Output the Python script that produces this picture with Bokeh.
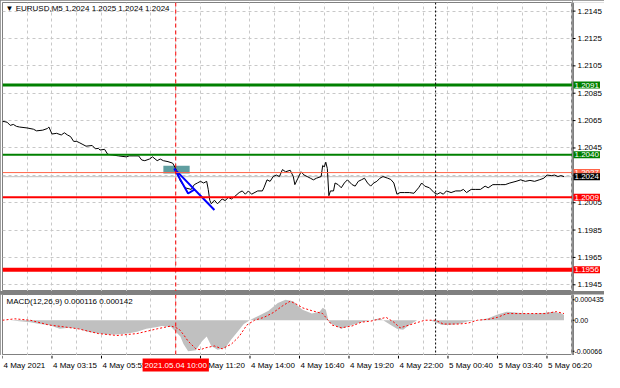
from bokeh.plotting import figure
from bokeh.models import Span, Label, FixedTicker, Range1d, Grid
from bokeh.layouts import column, row
from bokeh.core.properties import value
from bokeh.embed import file_html
from bokeh.resources import INLINE

FONT = "Liberation Sans"
FS = "8px"

# ---------------- data ----------------
symbol = "EURUSD,M5"
ohlc = [1.2024, 1.2025, 1.2024, 1.2024]

price_bars = [0, 1, 3, 5, 7, 9, 11, 16, 20, 22,
              26, 29, 30, 32, 35, 38, 40, 42, 44, 46,
              48, 50, 52, 54, 58, 60, 62, 63, 66, 68,
              71, 75, 80, 82, 85, 88, 90, 92, 95, 97,
              100, 102, 104, 107, 110, 112, 115, 118, 122, 124,
              126, 128, 130, 132, 133, 134, 135, 137, 139, 142,
              144, 146, 148, 150, 153, 155, 157, 159, 161, 165,
              168, 169, 171, 173, 175, 177, 179, 181, 183, 186,
              188, 189, 191, 193, 195, 197, 199, 201, 203, 206,
              207, 208, 209, 210, 211, 212, 214, 215, 217, 219,
              221, 223, 226, 228, 230, 232, 234, 236, 238, 240,
              242, 244, 246, 249, 251, 253, 255, 257, 260, 263,
              266, 269, 271, 273, 276, 279, 281, 283, 285, 287,
              290, 293, 296, 298, 300, 303, 306, 309, 312, 314,
              317, 319, 322, 325, 328, 332, 335, 338, 341, 344,
              347, 350, 352, 355, 357, 359, 361, 363]
price_vals = [1.20643, 1.20643, 1.20638, 1.20615, 1.20622, 1.20608, 1.20603, 1.20596, 1.20587, 1.20575,
              1.20580, 1.20592, 1.20603, 1.20552, 1.20557, 1.20545, 1.20561, 1.20545, 1.20533, 1.20498,
              1.20498, 1.20487, 1.20475, 1.20463, 1.20468, 1.20444, 1.20447, 1.20435, 1.20440, 1.20404,
              1.20399, 1.20392, 1.20385, 1.20392, 1.20392, 1.20392, 1.20362, 1.20357, 1.20369, 1.20385,
              1.20357, 1.20369, 1.20357, 1.20350, 1.20339, 1.20299, 1.20208, 1.20159, 1.20147, 1.20182,
              1.20194, 1.20206, 1.20194, 1.20206, 1.20147, 1.20068, 1.20042, 1.20068, 1.20042, 1.20077,
              1.20065, 1.20089, 1.20077, 1.20094, 1.20124, 1.20136, 1.20112, 1.20136, 1.20112, 1.20136,
              1.20136, 1.20159, 1.20217, 1.20206, 1.20241, 1.20252, 1.20241, 1.20292, 1.20276, 1.20287,
              1.20241, 1.20182, 1.20229, 1.20276, 1.20252, 1.20241, 1.20229, 1.20217, 1.20229, 1.20241,
              1.20322, 1.20311, 1.20346, 1.20299, 1.20101, 1.20136, 1.20136, 1.20194, 1.20182, 1.20159,
              1.20194, 1.20217, 1.20182, 1.20171, 1.20206, 1.20217, 1.20229, 1.20194, 1.20171, 1.20194,
              1.20206, 1.20229, 1.20241, 1.20229, 1.20220, 1.20194, 1.20112, 1.20124, 1.20124, 1.20124,
              1.20119, 1.20159, 1.20194, 1.20171, 1.20159, 1.20124, 1.20112, 1.20124, 1.20112, 1.20136,
              1.20124, 1.20136, 1.20136, 1.20147, 1.20124, 1.20147, 1.20147, 1.20147, 1.20171, 1.20159,
              1.20182, 1.20182, 1.20182, 1.20182, 1.20194, 1.20206, 1.20217, 1.20206, 1.20213, 1.20206,
              1.20217, 1.20229, 1.20252, 1.20248, 1.20252, 1.20241, 1.20248, 1.20240]

macd_title = "MACD(12,26,9) 0.000116 0.000142"
hist_bars = [0, 5, 11, 18, 24, 30, 37, 43, 49, 55,
             62, 68, 74, 81, 87, 93, 100, 103, 109, 112,
             115, 117, 120, 125, 129, 132, 135, 139, 144, 148,
             152, 156, 161, 166, 172, 178, 183, 188, 191, 194,
             200, 205, 207, 209, 211, 213, 219, 226, 232, 238,
             244, 251, 255, 259, 263, 268, 276, 280, 284, 289,
             295, 301, 307, 314, 320, 326, 333, 339, 345, 351,
             356, 361, 363]
hist_vals = [0.0, 0.0, -0.000020, -0.000041, -0.000081, -0.000101, -0.000183, -0.000162, -0.000183, -0.000244,
             -0.000284, -0.000305, -0.000305, -0.000284, -0.000244, -0.000183, -0.000142, -0.000122, -0.000142, -0.000244,
             -0.000345, -0.000508, -0.000660, -0.000640, -0.000447, -0.000345, -0.000548, -0.000630, -0.000589, -0.000406,
             -0.000244, -0.000081, 0.000020, 0.000101, 0.000203, 0.000365, 0.000435, 0.000406, 0.000305, 0.000223,
             0.000142, 0.000183, 0.000264, 0.000223, -0.000041, -0.000081, -0.000183, -0.000101, -0.000041, 0.0,
             0.000041, -0.000101, -0.000183, -0.000203, -0.000101, 0.0, 0.0, -0.000041, -0.000101, -0.000101,
             -0.000081, -0.000020, 0.0, 0.000041, 0.000122, 0.000183, 0.000162, 0.000142, 0.000142, 0.000162,
             0.000183, 0.000150, 0.000116]
signal_bars = [0, 8, 18, 30, 40, 49, 62, 74, 87, 100,
               109, 114, 117, 120, 125, 128, 131, 137, 142, 148,
               153, 158, 163, 169, 175, 181, 186, 191, 194, 200,
               207, 210, 213, 219, 226, 232, 238, 248, 253, 257,
               263, 273, 280, 285, 295, 301, 307, 314, 320, 326,
               339, 351, 358, 363]
signal_vals = [0.0, 0.000030, 0.0, -0.000101, -0.000142, -0.000183, -0.000284, -0.000325, -0.000284, -0.000183,
               -0.000122, -0.000183, -0.000305, -0.000446, -0.000609, -0.000629, -0.000589, -0.000548, -0.000609, -0.000508,
               -0.000345, -0.000101, 0.0, 0.000061, 0.000162, 0.000305, 0.000406, 0.000325, 0.000264, 0.000203,
               0.000142, 0.000020, -0.000101, -0.000162, -0.000122, -0.000041, -0.000020, 0.000061, -0.000041, -0.000162,
               -0.000101, 0.0, 0.0, -0.000081, -0.000081, -0.000061, 0.0, 0.000020, 0.000061, 0.000142,
               0.000142, 0.000142, 0.000183, 0.000142]

price_ticks = [1.1945, 1.1965, 1.1985, 1.2005, 1.2025, 1.2045, 1.2065, 1.2085, 1.2105, 1.2125, 1.2145]
price_tick_labels = ["1.1945", "1.1965", "1.1985", "1.2005", "", "1.2045", "1.2065", "1.2085",
                     "1.2105", "1.2125", "1.2145"]
macd_ticks = [0.000435, 0.0, -0.00066]
macd_tick_labels = ["0.000435", "0.00", "-0.00066"]

time_tick_bars = [0, 32, 64, 128, 160, 192, 224, 256, 288, 320, 352]
time_tick_labels = ["4 May 2021", "4 May 03:15", "4 May 05:55", "4 May 11:20", "4 May 14:00",
                    "4 May 16:40", "4 May 19:20", "4 May 22:00", "5 May 00:40", "5 May 03:40",
                    "5 May 06:20"]

level_prices = [1.2091, 1.2040, 1.2027, 1.2024, 1.2009, 1.1956]
level_texts = ["1.2091", "1.2040", "1.2027", "1.2024", "1.2009", "1.1956"]

marker_bar = 112
marker_text = "2021.05.04 10:00"
day_sep_bar = 280

zone_bars = [104, 121]
zone_prices = [1.20264, 1.20320]
trend_bars = [137, 111, 120, 124]
trend_prices = [1.19997, 1.20299, 1.20117, 1.20145]

# ---------------- styles / geometry ----------------
level_line_colors = ["#008000", "#008000", "#ff6347", "#c0c0c0", "#ff0000", "#ff0000"]
level_line_widths = [3, 2, 1, 1, 2, 4]
level_box_colors = ["#008000", "#008000", "#ff6347", "#000000", "#ff0000", "#ff0000"]

X0, X1 = 0, 368.5
P0, P1 = 1.19401, 1.21513
M0, M1 = -0.000751, 0.000548
FW, AXW = 570, 32
H_MAIN, H_MACD, H_XAX = 289, 61, 17
GRID = dict(grid_line_color="#c8c8c8", grid_line_dash="3 3", grid_line_width=1)
grid_bars = list(range(0, 369, 16))


def bare(fig):
    for r in list(fig.center):
        if isinstance(r, Grid):
            r.visible = False
    fig.background_fill_color = "white"
    fig.border_fill_color = "white"
    return fig


def new_fig(**kw):
    base = dict(output_backend="svg", toolbar_location=None, x_axis_location=None,
                y_axis_location=None, min_border=0, min_border_left=0, min_border_right=0,
                min_border_top=0, min_border_bottom=0)
    base.update(kw)
    return bare(figure(**base))


x_range = Range1d(X0, X1)
y_price = Range1d(P0, P1)
y_macd = Range1d(M0, M1)

# ---------------- main price panel ----------------
p1 = new_fig(frame_width=FW, frame_height=H_MAIN, x_range=x_range, y_range=y_price,
             min_border_left=2, min_border_top=2)
p1.outline_line_color = "#808080"
p1.add_layout(Grid(dimension=0, ticker=FixedTicker(ticks=grid_bars), **GRID))
p1.add_layout(Grid(dimension=1, ticker=FixedTicker(ticks=price_ticks), **GRID))

for price, col, w in zip(level_prices, level_line_colors, level_line_widths):
    lvl = "underlay" if col == "#c0c0c0" else "annotation"
    p1.add_layout(Span(location=price, dimension="width", line_color=col, line_width=w, level=lvl))

p1.quad(left=[zone_bars[0]], right=[zone_bars[1]], bottom=[zone_prices[0]], top=[zone_prices[1]],
        fill_color="#5f9ea0", line_color=None)
p1.line(price_bars, price_vals, line_color="black", line_width=1)
p1.line(trend_bars, trend_prices, line_color="#0000ff", line_width=2)
p1.add_layout(Span(location=marker_bar, dimension="height", line_color="red", line_dash="4 3", line_width=1))
p1.add_layout(Span(location=day_sep_bar, dimension="height", line_color="black", line_dash="2 2", line_width=1))
p1.add_layout(Label(x=X0, y=P1, x_offset=3, y_offset=-6,
                    text="\u25bc " + symbol + "  " + " ".join(f"{v:.4f}" for v in ohlc),
                    text_align="left", text_baseline="middle", text_font=FONT, text_font_size=FS,
                    text_color="black"))

# right price scale
a1 = new_fig(frame_width=AXW, frame_height=H_MAIN, x_range=Range1d(0, AXW), y_range=y_price,
             min_border_top=2)
a1.outline_line_color = None
a1.add_layout(Span(location=0.5, dimension="height", line_color="black", line_width=1))
a1.segment(x0=[0] * len(price_ticks), x1=[3] * len(price_ticks), y0=price_ticks, y1=price_ticks,
           line_color="black", line_width=1)
a1.text(x=[5] * len(price_ticks), y=price_ticks, text=price_tick_labels, text_align="left",
        text_baseline="middle", text_font=value(FONT), text_font_size=FS, text_color="black")
for price, txt, col in zip(level_prices, level_texts, level_box_colors):
    a1.add_layout(Label(x=1, y=price, text=txt, text_align="left", text_baseline="middle",
                        text_font=FONT, text_font_size=FS, text_color="white",
                        background_fill_color=col, padding=1))

# ---------------- MACD panel ----------------
p2 = new_fig(frame_width=FW, frame_height=H_MACD, x_range=x_range, y_range=y_macd, min_border_left=2)
p2.outline_line_color = "#808080"
p2.add_layout(Grid(dimension=0, ticker=FixedTicker(ticks=grid_bars), **GRID))
p2.varea(x=hist_bars, y1=[0.0] * len(hist_bars), y2=hist_vals, fill_color="#c0c0c0")
p2.line(signal_bars, signal_vals, line_color="red", line_dash="2 2", line_width=1)
p2.add_layout(Span(location=marker_bar, dimension="height", line_color="red", line_dash="4 3", line_width=1))
p2.add_layout(Span(location=day_sep_bar, dimension="height", line_color="black", line_dash="2 2", line_width=1))
p2.add_layout(Label(x=X0, y=M1, x_offset=4, y_offset=-7, text=macd_title, text_align="left",
                    text_baseline="middle", text_font=FONT, text_font_size=FS, text_color="black"))

a2 = new_fig(frame_width=AXW, frame_height=H_MACD, x_range=Range1d(0, AXW), y_range=y_macd)
a2.outline_line_color = None
a2.add_layout(Span(location=0.5, dimension="height", line_color="black", line_width=1))
a2.segment(x0=[0] * len(macd_ticks), x1=[2] * len(macd_ticks), y0=macd_ticks, y1=macd_ticks,
           line_color="black", line_width=1)
a2.text(x=[2] * len(macd_ticks), y=macd_ticks, text=macd_tick_labels, text_align="left",
        text_baseline="middle", text_font=value(FONT), text_font_size="7px", text_color="black")

# ---------------- time scale (spans the full width so the last label is not cut) ----------------
t_end = X1 * (FW + AXW) / FW
t = new_fig(frame_width=FW + AXW, frame_height=H_XAX, x_range=Range1d(X0, t_end),
            y_range=Range1d(0, H_XAX), min_border_left=2)
t.outline_line_color = None
t.segment(x0=time_tick_bars, x1=time_tick_bars, y0=[H_XAX] * len(time_tick_bars),
          y1=[H_XAX - 3] * len(time_tick_bars), line_color="black", line_width=1)
t.text(x=time_tick_bars, y=[7.5] * len(time_tick_bars), text=time_tick_labels, x_offset=1,
       text_align="left", text_baseline="middle", text_font=value(FONT), text_font_size=FS,
       text_color="black")
t.add_layout(Label(x=marker_bar, y=7.5, text=marker_text, text_align="center", text_baseline="middle",
                   text_font=FONT, text_font_size=FS, text_color="white",
                   background_fill_color="#ff0000", padding=2))

panels = column(row(p1, a1, spacing=0), row(p2, a2, spacing=0), spacing=3,
                styles={"background-color": "#808080"})
layout = column(panels, t, spacing=0)

open("out.html", "w").write(file_html(layout, INLINE))
